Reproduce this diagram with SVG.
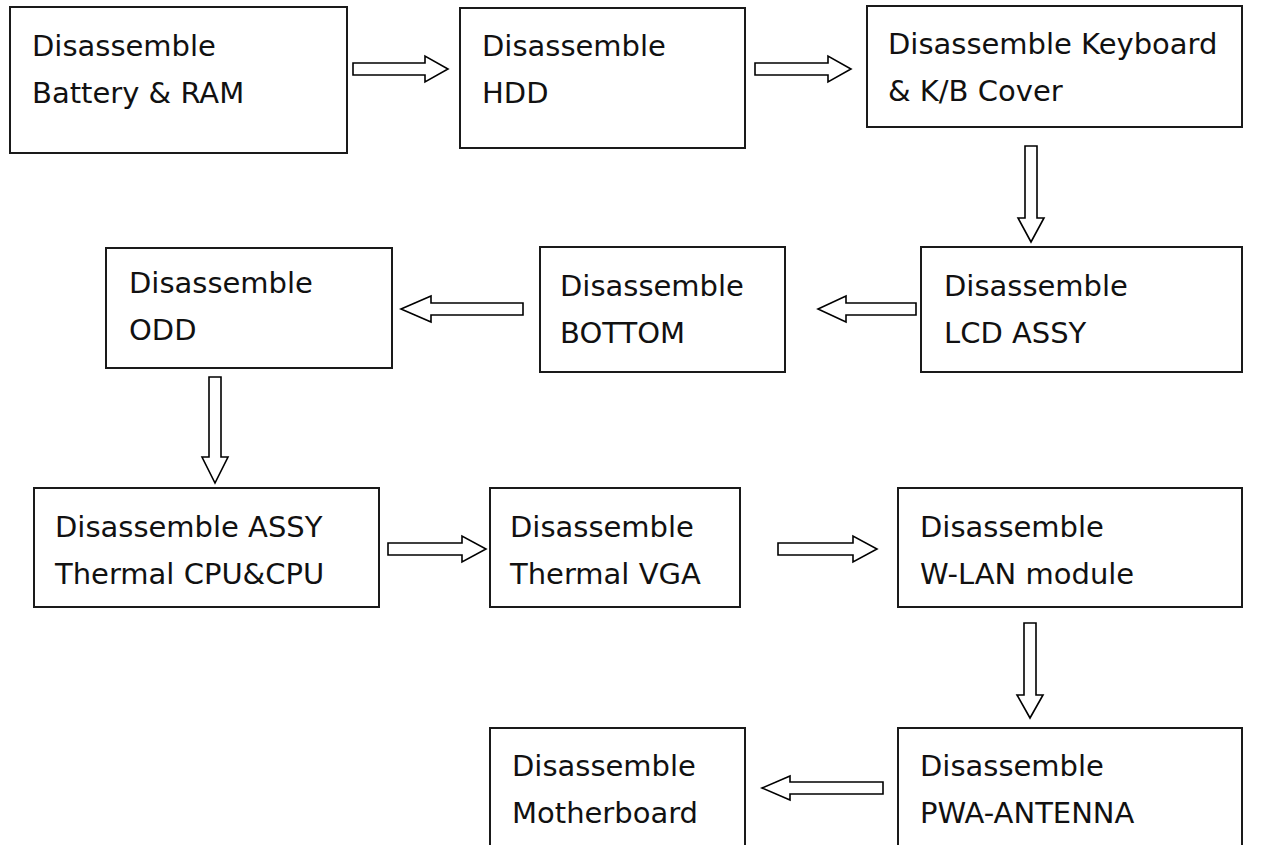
<svg xmlns="http://www.w3.org/2000/svg" width="1261" height="845" viewBox="0 0 1261 845">
<style>
.box{fill:#fff;stroke:#1a1a1a;stroke-width:2}
.arr{fill:#fff;stroke:#000;stroke-width:1.6;stroke-linejoin:miter}
text{font-family:"DejaVu Sans","Liberation Sans",sans-serif;font-size:29px;fill:#111}
</style>
<rect width="1261" height="845" fill="#fff"/>
<g id="connectors">
<path class="arr" d="M353,63 H425 V56 L448,69 L425,82 V75 H353 Z"/>
<path class="arr" d="M755,63 H828 V56 L851,69 L828,82 V75 H755 Z"/>
<path class="arr" d="M1025,146 V218 H1018 L1031,242 L1044,218 H1037 V146 Z"/>
<path class="arr" d="M916,303 H846 V296 L818,309 L846,322 V315 H916 Z"/>
<path class="arr" d="M523,303 H431 V296 L401,309 L431,322 V315 H523 Z"/>
<path class="arr" d="M209,377 V457 H202 L215,483 L228,457 H221 V377 Z"/>
<path class="arr" d="M388,543 H462 V536 L486,549 L462,562 V555 H388 Z"/>
<path class="arr" d="M778,543 H853 V536 L877,549 L853,562 V555 H778 Z"/>
<path class="arr" d="M1024,623 V695 H1017 L1030,718 L1043,695 H1036 V623 Z"/>
<path class="arr" d="M883,782 H790 V776 L762,788 L790,800 V794 H883 Z"/>
</g>
<g id="n1"><rect class="box" x="10" y="7" width="337" height="146"/><text x="32" y="56">Disassemble</text><text x="32" y="103">Battery &amp; RAM</text></g>
<g id="n2"><rect class="box" x="460" y="8" width="285" height="140"/><text x="482" y="56">Disassemble</text><text x="482" y="103">HDD</text></g>
<g id="n3"><rect class="box" x="867" y="6" width="375" height="121"/><text x="888" y="54">Disassemble Keyboard</text><text x="888" y="101">&amp; K/B Cover</text></g>
<g id="n4"><rect class="box" x="921" y="247" width="321" height="125"/><text x="944" y="296">Disassemble</text><text x="944" y="343">LCD ASSY</text></g>
<g id="n5"><rect class="box" x="540" y="247" width="245" height="125"/><text x="560" y="296">Disassemble</text><text x="560" y="343">BOTTOM</text></g>
<g id="n6"><rect class="box" x="106" y="248" width="286" height="120"/><text x="129" y="293">Disassemble</text><text x="129" y="340">ODD</text></g>
<g id="n7"><rect class="box" x="34" y="488" width="345" height="119"/><text x="55" y="537">Disassemble ASSY</text><text x="55" y="584">Thermal CPU&amp;CPU</text></g>
<g id="n8"><rect class="box" x="490" y="488" width="250" height="119"/><text x="510" y="537">Disassemble</text><text x="510" y="584">Thermal VGA</text></g>
<g id="n9"><rect class="box" x="898" y="488" width="344" height="119"/><text x="920" y="537">Disassemble</text><text x="920" y="584">W-LAN module</text></g>
<g id="n10"><rect class="box" x="898" y="728" width="344" height="132"/><text x="920" y="776">Disassemble</text><text x="920" y="823">PWA-ANTENNA</text></g>
<g id="n11"><rect class="box" x="490" y="728" width="255" height="132"/><text x="512" y="776">Disassemble</text><text x="512" y="823">Motherboard</text></g>
</svg>
